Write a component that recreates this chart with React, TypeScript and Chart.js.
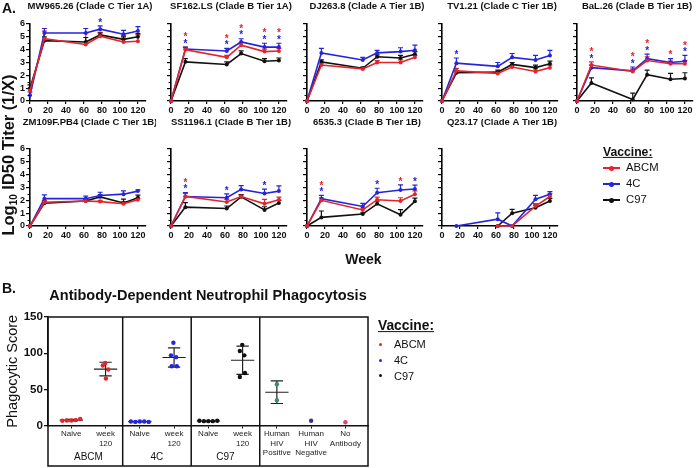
import React, { useEffect, useRef } from "react";
import { Chart, registerables } from "chart.js";
Chart.register(...registerables);

const FONT = "'Liberation Sans', Arial, Helvetica, sans-serif";

// ---------- Panel A data ----------
const WEEKS = [0, 16, 62, 78, 104, 120];
const VACCINES = ["ABCM", "4C", "C97"];
const VACCINE_COLORS = ["#e3242b", "#2424dc", "#111111"];
const Y_TICKS_A = [0, 1, 2, 3, 4, 5, 6];
const X_TICKS_A = [0, 20, 40, 60, 80, 100, 120];

const MW965_ABCM = [0.8, 4.85, 4.4, 5.05, 4.6, 4.65];
const MW965_4C = [0.45, 5.3, 5.3, 5.6, 5.2, 5.45];
const MW965_C97 = [1.0, 4.7, 4.6, 5.15, 4.8, 5.0];
const MW965_ABCM_ERR = [0.2, 0.6, 0.9, 0.3, 0.5, 0.5];
const MW965_4C_ERR = [0.25, 0.35, 0.35, 0.25, 0.3, 0.35];
const MW965_C97_ERR = [0.25, 0.3, 0.35, 0.15, 0.2, 0.25];
const MW965_STARS = [[], [], [], ["4C"], [], []];

const SF162_ABCM = [0, 4.0, 3.4, 4.35, 3.85, 3.9];
const SF162_4C = [0, 4.05, 3.9, 4.6, 4.2, 4.2];
const SF162_C97 = [0, 3.05, 2.85, 3.7, 3.1, 3.15];
const SF162_ABCM_ERR = [0, 0.2, 0.15, 0.2, 0.2, 0.2];
const SF162_4C_ERR = [0, 0.15, 0.2, 0.25, 0.3, 0.3];
const SF162_C97_ERR = [0, 0.25, 0.2, 0.2, 0.2, 0.2];
const SF162_STARS = [[], ["ABCM", "4C"], ["ABCM", "4C"], ["ABCM", "4C"], ["ABCM", "4C"], ["ABCM", "4C"]];

const DJ263_ABCM = [0, 2.8, 2.5, 3.0, 3.0, 3.4];
const DJ263_4C = [0, 3.75, 3.2, 3.75, 3.85, 3.95];
const DJ263_C97 = [0, 3.05, 2.55, 3.45, 3.35, 3.65];
const DJ263_ABCM_ERR = [0, 0.15, 0.1, 0.15, 0.2, 0.15];
const DJ263_4C_ERR = [0, 0.35, 0.2, 0.2, 0.3, 0.4];
const DJ263_C97_ERR = [0, 0.15, 0.1, 0.15, 0.2, 0.2];
const DJ263_STARS = [[], [], [], [], [], []];

const TV121_ABCM = [0, 2.35, 2.15, 2.65, 2.3, 2.6];
const TV121_4C = [0, 2.95, 2.7, 3.4, 3.2, 3.55];
const TV121_C97 = [0, 2.2, 2.25, 2.85, 2.6, 2.9];
const TV121_ABCM_ERR = [0, 0.2, 0.1, 0.15, 0.2, 0.2];
const TV121_4C_ERR = [0, 0.4, 0.3, 0.3, 0.35, 0.4];
const TV121_C97_ERR = [0, 0.15, 0.15, 0.15, 0.2, 0.2];
const TV121_STARS = [[], ["4C"], [], [], [], []];

const BAL26_ABCM = [0, 2.8, 2.3, 3.15, 2.9, 2.9];
const BAL26_4C = [0, 2.6, 2.35, 3.3, 3.0, 3.1];
const BAL26_C97 = [0, 1.4, 0.12, 2.05, 1.7, 1.75];
const BAL26_ABCM_ERR = [0, 0.25, 0.2, 0.3, 0.2, 0.25];
const BAL26_4C_ERR = [0, 0.2, 0.3, 0.35, 0.3, 0.45];
const BAL26_C97_ERR = [0, 0.4, 0.5, 0.35, 0.45, 0.45];
const BAL26_STARS = [[], ["ABCM", "4C"], ["ABCM", "4C"], ["ABCM", "4C"], ["ABCM"], ["ABCM", "4C"]];

const ZM109_ABCM = [0, 1.85, 1.95, 1.9, 1.73, 2.05];
const ZM109_4C = [0, 2.13, 2.13, 2.38, 2.48, 2.72];
const ZM109_C97 = [0, 1.78, 1.95, 2.27, 1.8, 2.2];
const ZM109_ABCM_ERR = [0, 0.15, 0.1, 0.1, 0.15, 0.1];
const ZM109_4C_ERR = [0, 0.3, 0.2, 0.25, 0.25, 0.1];
const ZM109_C97_ERR = [0, 0.15, 0.15, 0.15, 0.3, 0.2];
const ZM109_STARS = [[], [], [], [], [], []];

const SS1196_ABCM = [0, 2.3, 1.87, 2.3, 1.73, 2.05];
const SS1196_4C = [0, 2.3, 2.2, 2.85, 2.53, 2.72];
const SS1196_C97 = [0, 1.47, 1.36, 2.27, 1.25, 1.79];
const SS1196_ABCM_ERR = [0, 0.25, 0.2, 0.15, 0.35, 0.2];
const SS1196_4C_ERR = [0, 0.3, 0.3, 0.3, 0.35, 0.4];
const SS1196_C97_ERR = [0, 0.35, 0.2, 0.15, 0.25, 0.2];
const SS1196_STARS = [[], ["ABCM", "4C"], ["4C"], [], ["4C"], []];

const S6535_ABCM = [0, 2.0, 1.25, 2.05, 1.95, 2.48];
const S6535_4C = [0, 2.13, 1.52, 2.59, 2.8, 2.88];
const S6535_C97 = [0, 0.67, 0.93, 1.73, 0.88, 1.92];
const S6535_ABCM_ERR = [0, 0.2, 0.15, 0.2, 0.25, 0.25];
const S6535_4C_ERR = [0, 0.25, 0.25, 0.35, 0.4, 0.3];
const S6535_C97_ERR = [0, 0.5, 0.1, 0.2, 0.4, 0.25];
const S6535_STARS = [[], ["ABCM", "4C"], [], ["4C"], ["ABCM"], ["4C"]];

const Q2317_ABCM = [null, null, 0, 0, 1.55, 2.3];
const Q2317_4C = [null, 0, 0.53, 0, 2.08, 2.48];
const Q2317_C97 = [null, null, 0, 1.0, 1.42, 1.95];
const Q2317_ABCM_ERR = [0, 0, 0, 0, 0.2, 0.2];
const Q2317_4C_ERR = [0, 0, 0.5, 0, 0.3, 0.2];
const Q2317_C97_ERR = [0, 0, 0, 0.3, 0.2, 0.2];
const Q2317_STARS = [[], [], [], [], [], []];

const STRAINS = [
  { title: "MW965.26 (Clade C Tier 1A)", values: [MW965_ABCM, MW965_4C, MW965_C97], errors: [MW965_ABCM_ERR, MW965_4C_ERR, MW965_C97_ERR], stars: MW965_STARS },
  { title: "SF162.LS (Clade B Tier 1A)", values: [SF162_ABCM, SF162_4C, SF162_C97], errors: [SF162_ABCM_ERR, SF162_4C_ERR, SF162_C97_ERR], stars: SF162_STARS },
  { title: "DJ263.8 (Clade A Tier 1B)", values: [DJ263_ABCM, DJ263_4C, DJ263_C97], errors: [DJ263_ABCM_ERR, DJ263_4C_ERR, DJ263_C97_ERR], stars: DJ263_STARS },
  { title: "TV1.21 (Clade C Tier 1B)", values: [TV121_ABCM, TV121_4C, TV121_C97], errors: [TV121_ABCM_ERR, TV121_4C_ERR, TV121_C97_ERR], stars: TV121_STARS },
  { title: "BaL.26 (Clade B Tier 1B)", values: [BAL26_ABCM, BAL26_4C, BAL26_C97], errors: [BAL26_ABCM_ERR, BAL26_4C_ERR, BAL26_C97_ERR], stars: BAL26_STARS },
  { title: "ZM109F.PB4 (Clade C Tier 1B)", values: [ZM109_ABCM, ZM109_4C, ZM109_C97], errors: [ZM109_ABCM_ERR, ZM109_4C_ERR, ZM109_C97_ERR], stars: ZM109_STARS },
  { title: "SS1196.1 (Clade B Tier 1B)", values: [SS1196_ABCM, SS1196_4C, SS1196_C97], errors: [SS1196_ABCM_ERR, SS1196_4C_ERR, SS1196_C97_ERR], stars: SS1196_STARS },
  { title: "6535.3 (Clade B Tier 1B)", values: [S6535_ABCM, S6535_4C, S6535_C97], errors: [S6535_ABCM_ERR, S6535_4C_ERR, S6535_C97_ERR], stars: S6535_STARS },
  { title: "Q23.17 (Clade A Tier 1B)", values: [Q2317_ABCM, Q2317_4C, Q2317_C97], errors: [Q2317_ABCM_ERR, Q2317_4C_ERR, Q2317_C97_ERR], stars: Q2317_STARS },
];

// ---------- Panel B data ----------
const ADNP_CATEGORIES = [["Naive"], ["week", "120"], ["Naive"], ["week", "120"], ["Naive"], ["week", "120"], ["Human", "HIV", "Positive"], ["Human", "HIV", "Negative"], ["No", "Antibody"]];
const ADNP_GROUP_LABELS = ["ABCM", "4C", "C97"];
const ABCM_NAIVE = [6.5, 7, 7, 7.5, 9];
const ABCM_WK120 = [86.5, 83, 77.5, 65];
const C4_NAIVE = [5.5, 5, 5.5, 5.5, 5];
const C4_WK120 = [114.5, 97, 94.5, 82, 82];
const C97_NAIVE = [6.5, 6, 6, 6, 6.5];
const C97_WK120 = [111.5, 103, 97, 72.5, 67];
const HIV_POS = [57, 35];
const HIV_NEG = [6.5];
const NO_ANTIBODY = [4.5];
const Y_TICKS_B = [0, 50, 100, 150];

// horizontal jitter (category units) used for the dot plot
const JIT_NAIVE = [-0.26, -0.13, 0, 0.13, 0.26];
const JIT_ABCM_WK = [-0.01, -0.08, 0.08, 0.01];
const JIT_4C_WK = [-0.02, -0.09, 0.06, -0.07, 0.08];
const JIT_C97_WK = [-0.01, -0.08, 0.05, 0.07, -0.08];
const JIT_PAIR = [0, 0];
const JIT_ONE = [0];

const ADNP_SERIES = [
  { cat: 0, values: ABCM_NAIVE, jit: JIT_NAIVE, color: "#e3242b" },
  { cat: 1, values: ABCM_WK120, jit: JIT_ABCM_WK, color: "#e3242b" },
  { cat: 2, values: C4_NAIVE, jit: JIT_NAIVE, color: "#2424dc" },
  { cat: 3, values: C4_WK120, jit: JIT_4C_WK, color: "#2424dc" },
  { cat: 4, values: C97_NAIVE, jit: JIT_NAIVE, color: "#111111" },
  { cat: 5, values: C97_WK120, jit: JIT_C97_WK, color: "#111111" },
  { cat: 6, values: HIV_POS, jit: JIT_PAIR, color: "#3d8c6c" },
  { cat: 7, values: HIV_NEG, jit: JIT_ONE, color: "#3a2f8f" },
  { cat: 8, values: NO_ANTIBODY, jit: JIT_ONE, color: "#e0407f" },
];

// ---------- layout ----------
const COL_LEFT = [30, 171, 307, 442, 577];
const ROW_TOP = [24, 149];
const ROW_BOTTOM = [100.7, 225.5];
const TITLE_DY = [-18, -26.5];
const PLOT_W = 116;
const Y_W = 22;
const X_H = 14;
const PAD_T = 30;
const PAD_R = 10;

function Subplot({ idx }: { idx: number }) {
  const ref = useRef<HTMLCanvasElement>(null);
  const row = idx < 5 ? 0 : 1;
  const col = idx < 5 ? idx : idx - 5;
  const plotH = ROW_BOTTOM[row] - ROW_TOP[row];
  const W = Y_W + PLOT_W + PAD_R;
  const H = Math.round(PAD_T + plotH + X_H);
  const left = COL_LEFT[col] - Y_W;
  const top = ROW_TOP[row] - PAD_T;
  const showY = col === 0;

  useEffect(() => {
    const strain = STRAINS[idx];
    const errPlugin = {
      id: "errbars",
      beforeDatasetsDraw(chart: any) {
        const ctx = chart.ctx;
        const ys = chart.scales.y;
        strain.values.forEach((vals: any[], di: number) => {
          const meta = chart.getDatasetMeta(di);
          const errs = strain.errors[di];
          ctx.save();
          ctx.strokeStyle = VACCINE_COLORS[di];
          ctx.lineWidth = 1.2;
          vals.forEach((v, i) => {
            if (v == null || !errs[i]) return;
            const x = meta.data[i].x;
            const y0 = ys.getPixelForValue(v);
            const y1 = ys.getPixelForValue(v + errs[i]);
            ctx.beginPath();
            ctx.moveTo(x, y0);
            ctx.lineTo(x, y1);
            ctx.moveTo(x - 2.5, y1);
            ctx.lineTo(x + 2.5, y1);
            ctx.stroke();
          });
          ctx.restore();
        });
      },
    };
    const decoPlugin = {
      id: "deco",
      afterDraw(chart: any) {
        const ctx = chart.ctx;
        const ys = chart.scales.y;
        const xs = chart.scales.x;
        const ca = chart.chartArea;
        ctx.save();
        // minor ticks
        ctx.strokeStyle = "#000";
        ctx.lineWidth = 1;
        for (let v = 0.5; v < 6; v += 1) {
          const y = Math.round(ys.getPixelForValue(v)) + 0.5;
          ctx.beginPath();
          ctx.moveTo(ca.left - 2.5, y);
          ctx.lineTo(ca.left, y);
          ctx.stroke();
        }
        // title
        ctx.fillStyle = "#111";
        ctx.font = `bold 9.5px ${FONT}`;
        ctx.textAlign = "center";
        ctx.textBaseline = "middle";
        ctx.fillText(strain.title, (ca.left + ca.right) / 2 + 2, ca.top + TITLE_DY[row]);
        // stars
        ctx.font = `bold 10px ${FONT}`;
        ctx.textBaseline = "alphabetic";
        strain.stars.forEach((list: string[], i: number) => {
          if (!list.length) return;
          let topPx = Infinity;
          strain.values.forEach((vals: any[], di: number) => {
            const v = vals[i];
            if (v == null) return;
            topPx = Math.min(topPx, ys.getPixelForValue(v + strain.errors[di][i]));
          });
          const x = xs.getPixelForValue(WEEKS[i]);
          const order = ["4C", "ABCM"].filter((s) => list.includes(s));
          order.forEach((s, k) => {
            const yc = topPx - 6 - k * 6.5;
            ctx.fillStyle = VACCINE_COLORS[VACCINES.indexOf(s)];
            ctx.fillText("*", x, yc + 5.7);
          });
        });
        ctx.restore();
      },
    };
    const chart = new Chart(ref.current as HTMLCanvasElement, {
      type: "line",
      data: {
        datasets: strain.values.map((vals: any[], di: number) => ({
          label: VACCINES[di],
          data: WEEKS.map((w, i) => ({ x: w, y: vals[i] })),
          borderColor: VACCINE_COLORS[di],
          backgroundColor: VACCINE_COLORS[di],
          borderWidth: 1.6,
          pointRadius: 2,
          pointHoverRadius: 2,
          pointBorderWidth: 0,
          tension: 0,
          clip: false as any,
        })),
      },
      options: {
        animation: false,
        responsive: false,
        maintainAspectRatio: false,
        events: [],
        layout: { padding: { left: 0, top: PAD_T, right: PAD_R, bottom: 0 } },
        plugins: { legend: { display: false }, tooltip: { enabled: false }, title: { display: false } },
        scales: {
          x: {
            type: "linear",
            min: 0,
            max: 129,
            afterBuildTicks: (s: any) => { s.ticks = X_TICKS_A.map((v) => ({ value: v })); },
            afterFit: (s: any) => { s.height = X_H; },
            border: { display: true, color: "#000", width: 1.6 },
            grid: { display: true, drawOnChartArea: false, drawTicks: true, tickLength: 3, color: "#000", lineWidth: 1.2 },
            ticks: { color: "#111", padding: 1, maxRotation: 0, autoSkip: false, font: { family: FONT, size: 9, weight: "bold" } },
          },
          y: {
            type: "linear",
            min: 0,
            max: 6,
            afterBuildTicks: (s: any) => { s.ticks = Y_TICKS_A.map((v) => ({ value: v })); },
            afterFit: (s: any) => { s.width = Y_W; },
            border: { display: true, color: "#000", width: 1.6 },
            grid: { display: true, drawOnChartArea: false, drawTicks: true, tickLength: 4, color: "#000", lineWidth: 1.2 },
            ticks: { display: showY, autoSkip: false, color: "#111", padding: 1, font: { family: FONT, size: 9, weight: "bold" } },
          },
        },
      } as any,
      plugins: [errPlugin, decoPlugin],
    });
    return () => chart.destroy();
  }, []);

  return (
    <canvas
      ref={ref}
      width={W}
      height={H}
      style={{ position: "absolute", left, top, width: W, height: H }}
    />
  );
}

function PanelB() {
  const ref = useRef<HTMLCanvasElement>(null);
  useEffect(() => {
    const framePlugin = {
      id: "frame",
      afterDraw(chart: any) {
        const ctx = chart.ctx;
        const xs = chart.scales.x;
        const ca = chart.chartArea;
        const bottom = xs.bottom;
        ctx.save();
        ctx.strokeStyle = "#111";
        ctx.lineWidth = 1.5;
        ctx.strokeRect(ca.left, ca.top, ca.right - ca.left, bottom - ca.top);
        [1.5, 3.5, 5.5].forEach((v) => {
          const x = xs.getPixelForValue(v);
          ctx.beginPath();
          ctx.moveTo(x, ca.top);
          ctx.lineTo(x, bottom);
          ctx.stroke();
        });
        // group labels
        ctx.fillStyle = "#111";
        ctx.font = `10px ${FONT}`;
        ctx.textAlign = "center";
        ctx.textBaseline = "middle";
        ADNP_GROUP_LABELS.forEach((g, i) => {
          ctx.fillText(g, xs.getPixelForValue(i * 2 + 0.5), bottom - 9);
        });
        ctx.restore();
      },
    };
    const summaryPlugin = {
      id: "summary",
      beforeDatasetsDraw(chart: any) {
        const ctx = chart.ctx;
        const xs = chart.scales.x;
        const ys = chart.scales.y;
        ctx.save();
        ctx.strokeStyle = "#222";
        ctx.lineWidth = 1.2;
        ADNP_SERIES.forEach((s) => {
          const n = s.values.length;
          if (n < 2) return;
          const mean = s.values.reduce((a, b) => a + b, 0) / n;
          const sd = Math.sqrt(s.values.reduce((a, b) => a + (b - mean) * (b - mean), 0) / (n - 1));
          const xl = xs.getPixelForValue(s.cat - 0.34);
          const xr = xs.getPixelForValue(s.cat + 0.34);
          const cl = xs.getPixelForValue(s.cat - 0.18);
          const cr = xs.getPixelForValue(s.cat + 0.18);
          const xc = xs.getPixelForValue(s.cat);
          const ym = ys.getPixelForValue(mean);
          const yt = ys.getPixelForValue(mean + sd);
          const yb = ys.getPixelForValue(mean - sd);
          ctx.beginPath();
          ctx.moveTo(xl, ym); ctx.lineTo(xr, ym);
          ctx.moveTo(xc, yt); ctx.lineTo(xc, yb);
          ctx.moveTo(cl, yt); ctx.lineTo(cr, yt);
          ctx.moveTo(cl, yb); ctx.lineTo(cr, yb);
          ctx.stroke();
        });
        ctx.restore();
      },
    };
    const chart = new Chart(ref.current as HTMLCanvasElement, {
      type: "scatter",
      data: {
        datasets: ADNP_SERIES.map((s) => ({
          data: s.values.map((v, i) => ({ x: s.cat + s.jit[i], y: v })),
          backgroundColor: s.color,
          borderColor: s.color,
          pointRadius: 2.2,
          pointHoverRadius: 2.2,
          pointBorderWidth: 0,
          clip: false as any,
        })),
      },
      options: {
        animation: false,
        responsive: false,
        maintainAspectRatio: false,
        events: [],
        layout: { padding: { left: 0, top: 17, right: 4, bottom: 2 } },
        plugins: { legend: { display: false }, tooltip: { enabled: false } },
        scales: {
          x: {
            type: "linear",
            min: -0.68,
            max: 8.66,
            afterBuildTicks: (s: any) => { s.ticks = ADNP_CATEGORIES.map((_, i) => ({ value: i })); },
            afterFit: (s: any) => { s.height = 40.5; },
            border: { display: true, color: "#111", width: 1.5 },
            grid: { display: true, drawOnChartArea: false, drawTicks: true, tickLength: 3, color: "#111", lineWidth: 1 },
            ticks: {
              color: "#222",
              padding: 1,
              maxRotation: 0,
              autoSkip: false,
              font: { family: FONT, size: 8, lineHeight: 1.17 },
              callback: (v: any) => ADNP_CATEGORIES[Math.round(v)],
            },
          },
          y: {
            type: "linear",
            min: 0,
            max: 150,
            afterBuildTicks: (s: any) => { s.ticks = Y_TICKS_B.map((v) => ({ value: v })); },
            afterFit: (s: any) => { s.width = 48; },
            border: { display: true, color: "#111", width: 1.5 },
            grid: { display: true, drawOnChartArea: false, drawTicks: true, tickLength: 4, color: "#111", lineWidth: 1.3 },
            ticks: { autoSkip: false, color: "#111", padding: 1, font: { family: FONT, size: 11.6, weight: "bold" } },
            title: { display: true, text: "Phagocytic Score", color: "#111", font: { family: FONT, size: 14.5 }, padding: { top: 4, bottom: 0 } },
          },
        },
      } as any,
      plugins: [summaryPlugin, framePlugin],
    });
    return () => chart.destroy();
  }, []);
  return <canvas ref={ref} width={372} height={168} style={{ position: "absolute", left: 0, top: 300, width: 372, height: 168 }} />;
}

function Txt(props: { x: number; y: number; children: any; font: string; center?: boolean; style?: any }) {
  return (
    <div
      style={{
        position: "absolute",
        left: props.x,
        top: props.y,
        transform: props.center ? "translate(-50%, -50%)" : "translateY(-50%)",
        font: props.font,
        lineHeight: 1,
        whiteSpace: "nowrap",
        color: "#111",
        ...(props.style || {}),
      }}
    >
      {props.children}
    </div>
  );
}

const LEGEND_A_Y = [168, 184, 200];
const LEGEND_B_Y = [344, 360, 375.5];

export default function App() {
  return (
    <div style={{ position: "absolute", left: 0, top: 0, width: 696, height: 468, background: "#fff", overflow: "hidden", fontFamily: FONT }}>
      {STRAINS.map((_, i) => (
        <Subplot key={i} idx={i} />
      ))}
      <PanelB />

      <Txt x={2} y={8} font={`bold 14px ${FONT}`}>A.</Txt>
      <Txt x={2} y={288} font={`bold 14px ${FONT}`}>B.</Txt>

      <div
        style={{
          position: "absolute",
          left: 9,
          top: 154.5,
          transform: "translate(-50%, -50%) rotate(-90deg)",
          font: `bold 16.5px ${FONT}`,
          whiteSpace: "nowrap",
          lineHeight: 1,
          color: "#111",
        }}
      >
        Log<span style={{ fontSize: 10, verticalAlign: -3 }}>10</span> ID50 Titer (1/X)
      </div>

      <Txt x={363.5} y={259} center font={`bold 14px ${FONT}`}>Week</Txt>

      <Txt x={603} y={152} font={`bold 12.2px ${FONT}`} style={{ textDecoration: "underline" }}>Vaccine:</Txt>
      {VACCINES.map((v, i) => (
        <React.Fragment key={v}>
          <div style={{ position: "absolute", left: 603, top: LEGEND_A_Y[i] - 1, width: 17, height: 2, background: VACCINE_COLORS[i] }} />
          <div style={{ position: "absolute", left: 609, top: LEGEND_A_Y[i] - 2.5, width: 5, height: 5, borderRadius: "50%", background: VACCINE_COLORS[i] }} />
          <Txt x={626} y={LEGEND_A_Y[i]} font={`11.3px ${FONT}`}>{v}</Txt>
        </React.Fragment>
      ))}

      <Txt x={208} y={295} center font={`bold 14.5px ${FONT}`}>Antibody-Dependent Neutrophil Phagocytosis</Txt>

      <Txt x={378} y={326} font={`bold 13.8px ${FONT}`} style={{ textDecoration: "underline" }}>Vaccine:</Txt>
      {VACCINES.map((v, i) => (
        <React.Fragment key={"b" + v}>
          <div style={{ position: "absolute", left: 378.5, top: LEGEND_B_Y[i] - 1.5, width: 3, height: 3, borderRadius: "50%", background: VACCINE_COLORS[i] }} />
          <Txt x={394} y={LEGEND_B_Y[i]} font={`11px ${FONT}`}>{v}</Txt>
        </React.Fragment>
      ))}
    </div>
  );
}
